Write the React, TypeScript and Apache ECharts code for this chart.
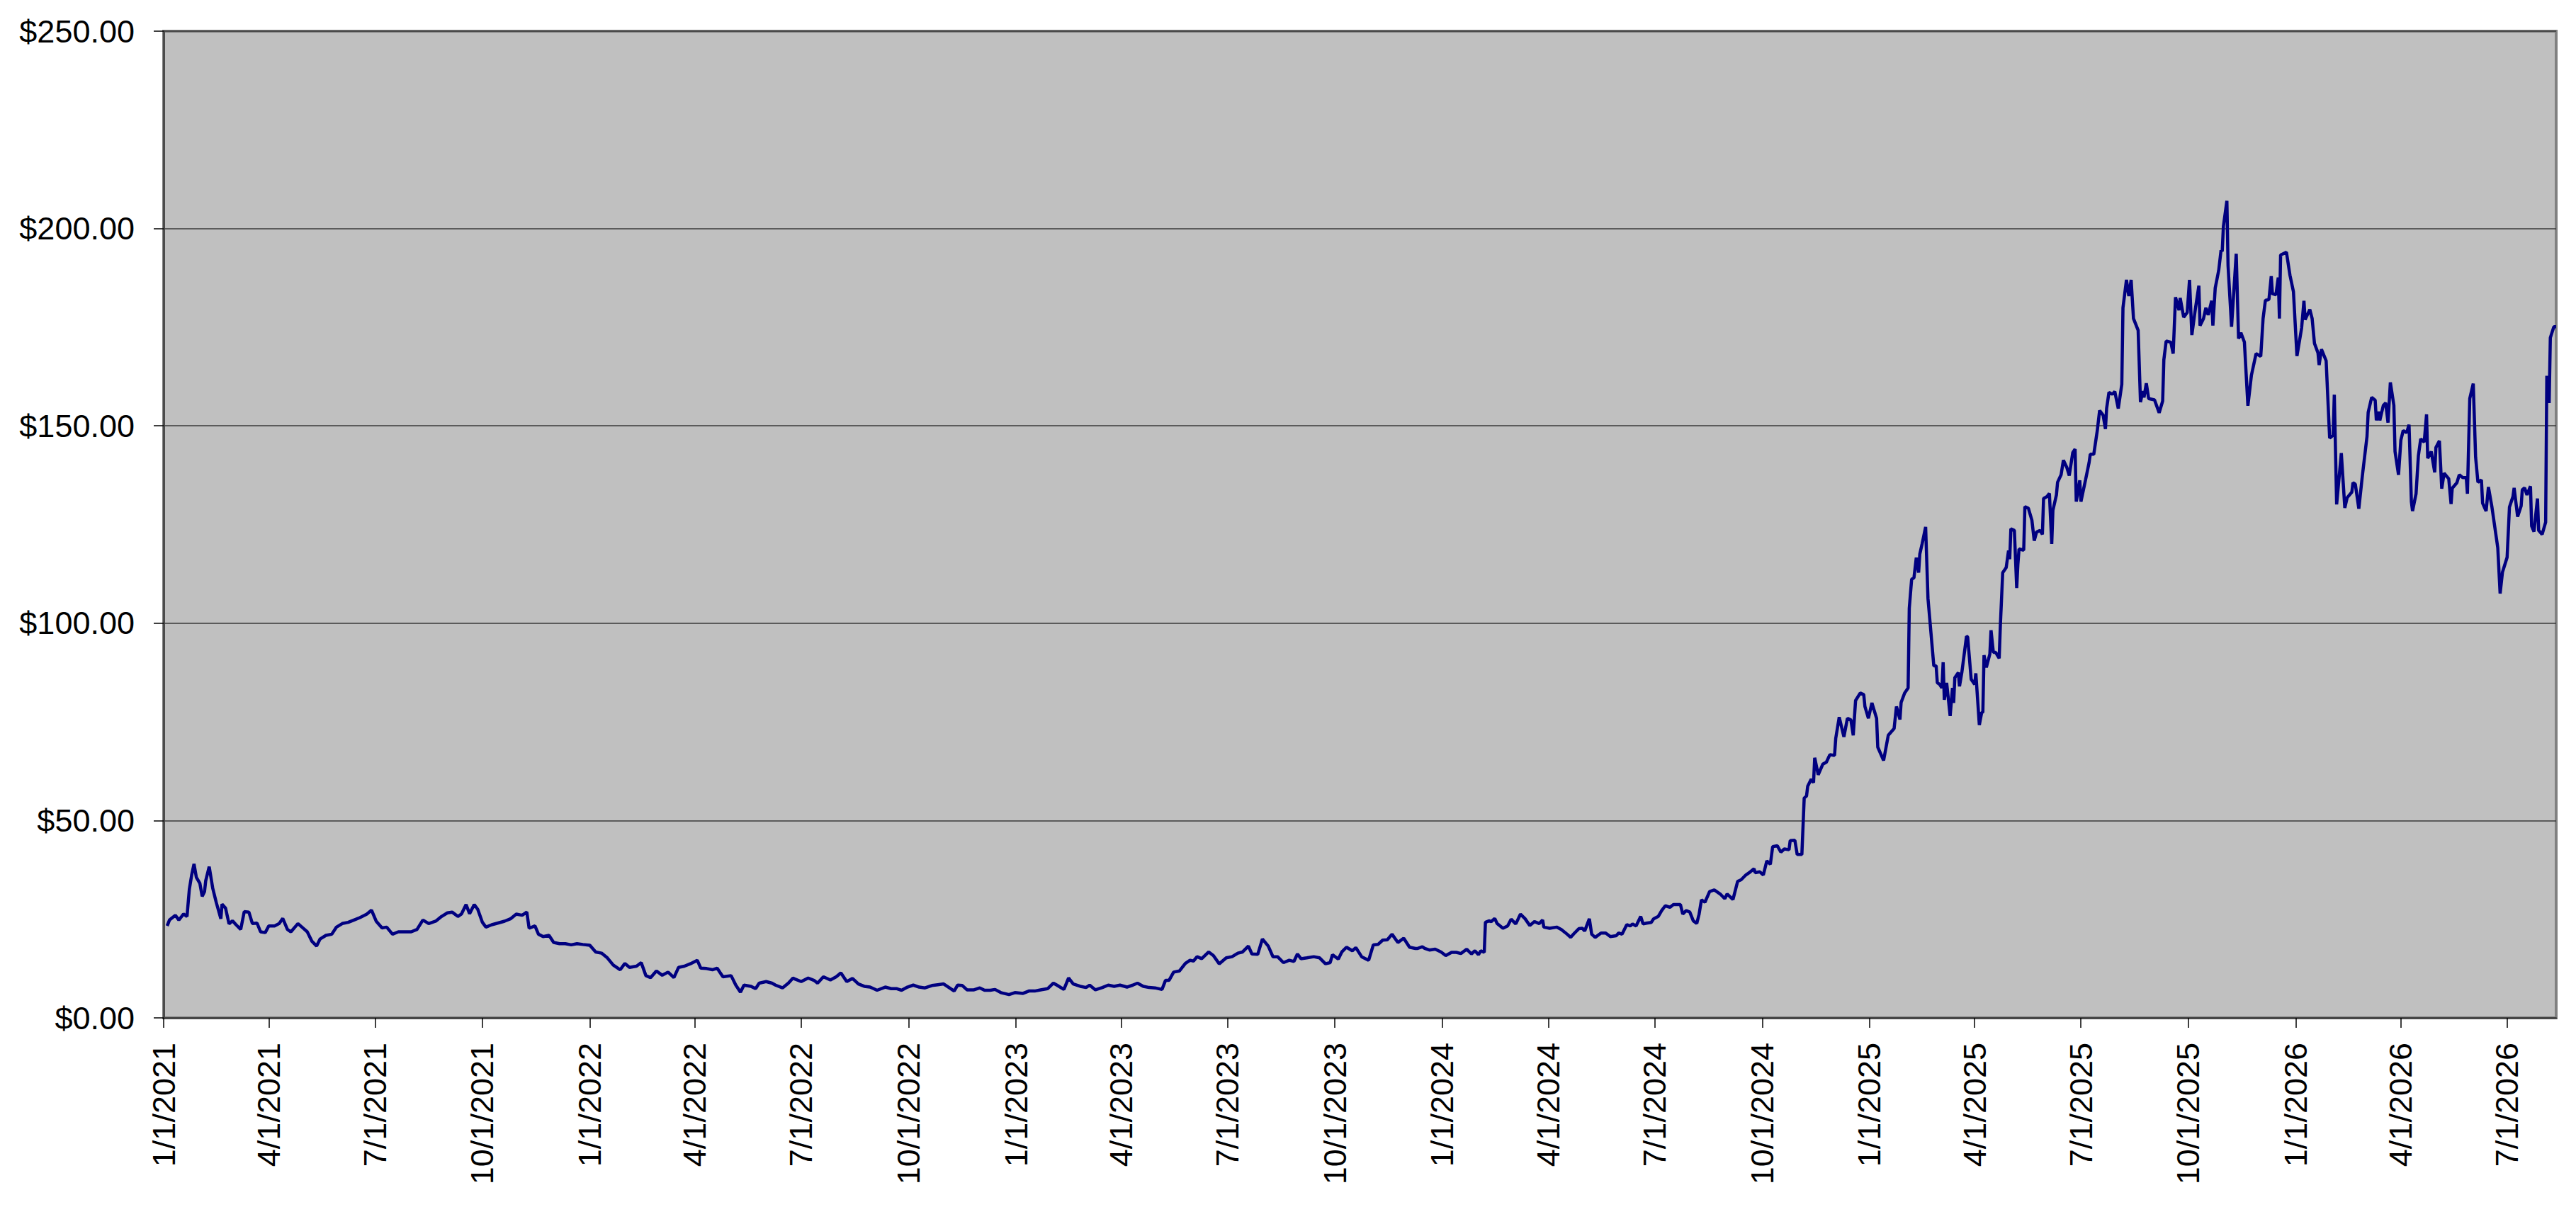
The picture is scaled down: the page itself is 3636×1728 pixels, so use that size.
import React, { useEffect, useRef } from 'react';
import * as echarts from 'echarts';

// Day offsets are counted from 1/1/2021; the x axis ends on day 2049 (8/11/2026).
const startDate = '1/1/2021';
const lastDay = 2049;

const tickLabels = [
  '1/1/2021', '4/1/2021', '7/1/2021', '10/1/2021',
  '1/1/2022', '4/1/2022', '7/1/2022', '10/1/2022',
  '1/1/2023', '4/1/2023', '7/1/2023', '10/1/2023',
  '1/1/2024', '4/1/2024', '7/1/2024', '10/1/2024',
  '1/1/2025', '4/1/2025', '7/1/2025', '10/1/2025',
  '1/1/2026', '4/1/2026', '7/1/2026',
];

const yMin = 0;
const yMax = 250;
const yStep = 50;

// [day offset, price]
const prices2021: [number, number][] = [
  [3, 23.3], [5, 24.8], [10, 26.0], [13, 24.8], [17, 26.3], [20, 25.7], [22, 32.6], [24, 36.2],
  [26, 39.0], [28, 35.6], [31, 34.1], [33, 30.8], [35, 32.0], [36, 34.7], [39, 38.3], [42, 32.9],
  [45, 29.3], [49, 25.1], [50, 28.8], [53, 27.8], [56, 23.8], [59, 24.6], [62, 23.6], [66, 22.4],
  [69, 26.9], [73, 26.8], [76, 23.9], [80, 24.0], [83, 21.8], [87, 21.6], [90, 23.3], [95, 23.3],
  [99, 23.9], [102, 25.2], [106, 22.4], [109, 21.8], [115, 23.9], [120, 22.6], [123, 21.8], [127, 19.4],
  [131, 18.2], [134, 20.0], [139, 20.9], [144, 21.2], [148, 23.0], [153, 23.9], [158, 24.2], [163, 24.8],
  [168, 25.4], [174, 26.3], [178, 27.3], [182, 24.5], [187, 22.8], [191, 23.0], [196, 21.2], [201, 21.8],
  [207, 21.8], [212, 21.8], [217, 22.4], [222, 24.8], [227, 23.9], [233, 24.5], [238, 25.7], [243, 26.6],
  [247, 26.8], [252, 25.7], [255, 26.3], [259, 28.7], [262, 26.4], [266, 28.7], [269, 27.5], [273, 24.2],
  [276, 23.0], [281, 23.6], [286, 24.0], [292, 24.5], [297, 25.1], [302, 26.3], [307, 26.0], [311, 26.8],
  [313, 22.7], [318, 23.3], [321, 21.2], [325, 20.6], [330, 20.9], [334, 19.1], [339, 18.8], [344, 18.8],
  [349, 18.5], [354, 18.8], [359, 18.6],
];

const prices2022: [number, number][] = [
  [365, 18.4], [370, 16.7], [375, 16.4], [380, 15.2], [385, 13.4], [391, 12.2], [395, 13.8], [399, 12.8],
  [405, 13.1], [409, 14.0], [413, 10.7], [417, 10.2], [422, 11.9], [427, 10.8], [432, 11.6], [437, 10.2],
  [441, 12.8], [446, 13.1], [451, 13.7], [457, 14.6], [460, 12.6], [465, 12.5], [470, 12.2], [474, 12.6],
  [479, 10.4], [486, 10.7], [490, 8.3], [494, 6.5], [497, 8.3], [503, 8.0], [507, 7.4], [510, 8.8],
  [516, 9.2], [521, 8.8], [524, 8.3], [530, 7.6], [535, 8.8], [539, 10.1], [541, 9.8], [546, 9.2],
  [552, 10.1], [557, 9.5], [560, 8.8], [565, 10.4], [571, 9.6], [576, 10.4], [580, 11.4], [585, 9.2],
  [590, 10.0], [595, 8.6], [600, 8.0], [605, 7.8], [611, 7.0], [618, 7.8], [623, 7.4], [628, 7.4],
  [632, 7.0], [637, 7.8], [642, 8.3], [647, 7.8], [652, 7.6], [658, 8.2], [663, 8.4], [668, 8.6],
  [673, 7.6], [677, 6.8], [680, 8.3], [684, 8.2], [688, 7.1], [694, 7.1], [699, 7.6], [703, 7.0],
  [708, 7.0], [712, 7.2], [717, 6.4], [724, 5.9], [729, 6.4],
];

const prices2023: [number, number][] = [
  [736, 6.2], [741, 6.8], [746, 6.8], [751, 7.1], [757, 7.4], [762, 8.8], [765, 8.3], [771, 7.2],
  [775, 10.1], [779, 8.6], [785, 8.0], [790, 7.7], [793, 8.3], [798, 7.1], [804, 7.7], [809, 8.3],
  [814, 8.0], [819, 8.3], [825, 7.8], [830, 8.3], [834, 8.8], [839, 8.0], [844, 7.7], [849, 7.6],
  [855, 7.2], [858, 9.5], [861, 9.5], [865, 11.6], [870, 11.9], [875, 13.8], [879, 14.6], [882, 14.4],
  [885, 15.5], [889, 15.0], [895, 16.7], [899, 15.8], [904, 13.7], [910, 15.2], [915, 15.5], [920, 16.4],
  [924, 16.7], [929, 18.2], [932, 16.2], [937, 16.1], [941, 20.0], [946, 18.2], [950, 15.5], [954, 15.5],
  [959, 14.0], [964, 14.6], [968, 14.3], [971, 16.2], [974, 15.0], [979, 15.2], [985, 15.5], [990, 15.2],
  [995, 13.7], [999, 14.0], [1001, 16.0], [1006, 14.9], [1009, 16.7], [1013, 17.9], [1018, 17.0], [1021, 17.8],
  [1026, 15.5], [1032, 14.6], [1036, 18.5], [1040, 18.6], [1044, 19.7], [1048, 19.8], [1052, 21.2], [1057, 19.1],
  [1062, 20.2], [1067, 17.9], [1072, 17.6], [1074, 17.6], [1078, 18.0], [1080, 17.6], [1084, 17.2], [1089, 17.4],
  [1094, 16.7],
];

const prices2024: [number, number][] = [
  [1098, 15.8], [1103, 16.6], [1107, 16.6], [1111, 16.3], [1116, 17.4], [1120, 16.2], [1123, 17.0], [1126, 16.0],
  [1128, 17.0], [1131, 16.6], [1132, 24.2], [1135, 24.6], [1137, 24.4], [1140, 25.2], [1142, 23.9], [1147, 22.7],
  [1151, 23.3], [1154, 25.0], [1158, 23.8], [1162, 26.3], [1166, 25.1], [1170, 23.4], [1174, 24.4], [1178, 23.9],
  [1181, 24.8], [1182, 23.0], [1187, 22.7], [1193, 23.0], [1197, 22.4], [1202, 21.2], [1205, 20.4], [1208, 21.4],
  [1212, 22.6], [1215, 22.7], [1217, 22.0], [1221, 25.1], [1223, 21.2], [1226, 20.4], [1231, 21.5], [1235, 21.5],
  [1239, 20.6], [1244, 20.8], [1246, 21.5], [1249, 21.2], [1253, 23.6], [1256, 23.3], [1258, 23.8], [1261, 23.3],
  [1265, 25.7], [1267, 23.8], [1270, 24.0], [1274, 24.2], [1276, 25.1], [1280, 25.7], [1283, 27.2], [1286, 28.4],
  [1290, 28.0], [1293, 28.7], [1299, 28.7], [1301, 26.3], [1304, 27.2], [1307, 26.8], [1310, 24.6], [1313, 23.9],
  [1315, 26.3], [1317, 29.9], [1320, 29.3], [1324, 32.0], [1328, 32.4], [1333, 31.4], [1337, 30.2], [1339, 31.4],
  [1344, 30.0], [1348, 34.6], [1351, 35.0], [1355, 36.2], [1358, 36.8], [1362, 37.8], [1363, 36.8], [1367, 37.0],
  [1370, 36.2], [1373, 39.8], [1376, 38.9], [1378, 43.4], [1382, 43.6], [1385, 42.0], [1388, 42.8], [1392, 42.6],
  [1393, 44.9], [1397, 45.0], [1399, 41.4], [1403, 41.4], [1405, 55.7], [1407, 56.2], [1408, 58.7], [1411, 60.5],
  [1413, 59.6], [1414, 65.9], [1417, 61.6], [1421, 64.3], [1424, 64.8], [1427, 66.7], [1431, 66.5], [1432, 70.8],
  [1435, 76.2], [1439, 71.2], [1442, 75.9], [1445, 75.5], [1447, 71.6], [1449, 80.4], [1453, 82.3], [1456, 81.9],
  [1457, 78.9], [1460, 75.9],
];

const prices2025: [number, number][] = [
  [1463, 79.8], [1467, 75.9], [1468, 68.6], [1473, 65.2], [1477, 71.6], [1482, 73.3], [1484, 78.9], [1487, 75.6],
  [1488, 79.9], [1491, 82.3], [1494, 83.6], [1495, 103.8], [1497, 111.1], [1499, 111.5], [1501, 116.6], [1503, 112.8],
  [1504, 117.5], [1506, 120.1], [1509, 124.4], [1511, 106.3], [1513, 99.5], [1516, 89.2], [1518, 89.2], [1519, 84.9],
  [1521, 84.5], [1523, 83.6], [1524, 90.1], [1525, 80.6], [1527, 84.9], [1530, 76.5], [1532, 83.6], [1533, 79.8],
  [1534, 86.2], [1537, 87.5], [1538, 84.0], [1540, 87.5], [1544, 96.7], [1545, 96.5], [1548, 85.8], [1551, 84.5],
  [1552, 87.3], [1555, 74.2], [1557, 77.4], [1558, 77.4], [1559, 91.9], [1561, 88.8], [1564, 92.2], [1565, 98.2],
  [1567, 92.6], [1569, 92.6], [1572, 91.1], [1573, 99.5], [1575, 112.8], [1578, 114.1], [1580, 118.4], [1581, 116.2],
  [1582, 123.9], [1585, 123.5], [1587, 108.9], [1588, 114.9], [1589, 118.8], [1593, 118.5], [1594, 129.5], [1597, 129.1],
  [1600, 126.1], [1602, 120.9], [1604, 123.1], [1607, 123.5], [1609, 122.5], [1610, 131.6], [1613, 132.1], [1615, 132.9],
  [1617, 120.1], [1618, 128.6], [1621, 132.5], [1622, 135.7], [1625, 137.6], [1627, 141.3], [1630, 139.4], [1632, 137.4],
  [1635, 143.2], [1637, 144.1], [1638, 130.8], [1641, 136.2], [1642, 130.8], [1646, 136.4], [1649, 140.7], [1650, 142.8],
  [1653, 142.8], [1656, 148.8], [1658, 153.9], [1661, 152.7], [1663, 149.2], [1664, 154.4], [1666, 158.5], [1669, 158.0],
  [1671, 158.7], [1674, 154.4], [1677, 160.5], [1678, 179.9], [1681, 187.0], [1683, 182.9], [1685, 187.0], [1687, 177.2],
  [1691, 174.2], [1693, 156.0], [1695, 158.8], [1696, 157.2], [1698, 160.8], [1700, 156.9], [1705, 156.6], [1709, 153.3],
  [1712, 156.3], [1713, 166.7], [1715, 171.5], [1719, 171.2], [1721, 168.3], [1723, 182.6], [1726, 179.3], [1727, 182.4],
  [1730, 177.5], [1733, 178.7], [1735, 187.0], [1737, 173.0], [1740, 179.6], [1743, 185.5], [1744, 175.4], [1747, 177.2],
  [1749, 179.9], [1751, 178.1], [1754, 181.7], [1755, 175.4], [1757, 184.9], [1760, 189.4], [1762, 194.5], [1763, 194.2],
  [1764, 200.5], [1767, 207.0], [1768, 190.6], [1771, 175.1], [1775, 193.6], [1777, 172.1], [1779, 173.6], [1782, 171.2],
  [1783, 165.8], [1785, 155.1], [1788, 162.8], [1792, 168.3], [1796, 167.6], [1798, 177.2], [1800, 181.8], [1803, 182.0],
  [1805, 187.9], [1806, 183.5], [1809, 183.2], [1811, 187.6], [1812, 177.2], [1813, 193.3], [1818, 194.0], [1821, 188.2],
  [1824, 184.0],
];

const prices2026: [number, number][] = [
  [1827, 167.7], [1831, 174.8], [1833, 181.7], [1834, 176.9], [1838, 179.5], [1840, 177.2], [1842, 170.9], [1845, 168.5],
  [1846, 165.4], [1848, 169.4], [1852, 166.5], [1855, 146.9], [1858, 147.6], [1859, 157.9], [1861, 130.1], [1865, 143.1],
  [1868, 129.2], [1870, 131.8], [1874, 133.2], [1875, 135.6], [1877, 135.2], [1880, 129.0], [1883, 137.3], [1887, 147.3],
  [1888, 153.4], [1891, 157.2], [1894, 156.5], [1895, 151.4], [1897, 153.6], [1898, 151.4], [1901, 155.2], [1903, 155.8],
  [1905, 150.8], [1907, 161.0], [1910, 155.2], [1911, 143.5], [1914, 137.6], [1916, 146.4], [1918, 148.8], [1921, 148.3],
  [1923, 150.3], [1925, 130.8], [1926, 128.4], [1929, 132.8], [1931, 142.4], [1933, 146.7], [1936, 145.9], [1938, 152.9],
  [1939, 141.8], [1942, 143.5], [1945, 138.2], [1946, 144.5], [1949, 146.2], [1951, 134.1], [1953, 138.0], [1957, 136.6],
  [1959, 130.2], [1960, 134.2], [1964, 135.6], [1966, 137.6], [1969, 136.9], [1972, 136.9], [1973, 132.8], [1975, 156.9],
  [1978, 160.7], [1980, 142.1], [1982, 135.7], [1985, 136.3], [1986, 130.4], [1989, 128.4], [1991, 134.5], [1994, 129.4],
  [1999, 119.1], [2001, 107.5], [2003, 112.9], [2007, 116.7], [2009, 129.4], [2012, 132.1], [2013, 134.3], [2016, 127.0],
  [2019, 129.7], [2020, 133.8], [2022, 134.3], [2024, 132.5], [2027, 134.7], [2028, 124.6], [2030, 123.2], [2033, 131.6],
  [2034, 123.5], [2037, 122.5], [2040, 125.6], [2041, 162.7], [2043, 155.8], [2044, 172.3], [2047, 175.1], [2049, 175.1],
];

function dayOffset(label: string): number {
  const [m, d, y] = label.split('/').map(Number);
  const [m0, d0, y0] = startDate.split('/').map(Number);
  return Math.round((Date.UTC(y, m - 1, d) - Date.UTC(y0, m0 - 1, d0)) / 86400000);
}

const FONT = '"Liberation Sans", Arial, Helvetica, sans-serif';

export default function App() {
  const ref = useRef<HTMLDivElement>(null);

  useEffect(() => {
    if (!ref.current) return;
    const chart = echarts.init(ref.current, undefined, { renderer: 'svg' });

    const tickDays = tickLabels.map(dayOffset);
    const labelByDay = new Map<number, string>();
    tickDays.forEach((d, i) => labelByDay.set(d, tickLabels[i]));

    const series = [
      ...prices2021, ...prices2022, ...prices2023,
      ...prices2024, ...prices2025, ...prices2026,
    ];

    chart.setOption({
      animation: false,
      backgroundColor: '#ffffff',
      textStyle: { fontFamily: FONT },
      grid: {
        left: 231,
        right: 28,
        top: 44,
        bottom: 291,
        show: true,
        backgroundColor: '#C0C0C0',
        borderColor: '#808080',
        borderWidth: 4,
        containLabel: false,
        outerBoundsMode: 'none',
      },
      xAxis: {
        type: 'value',
        min: 0,
        max: lastDay,
        axisLine: { show: true, lineStyle: { color: '#404040', width: 2.5 } },
        axisTick: {
          show: true,
          customValues: tickDays,
          length: 14,
          lineStyle: { color: '#000000', width: 1.5 },
        },
        axisLabel: {
          show: true,
          customValues: tickDays,
          rotate: 90,
          margin: 35,
          fontSize: 45,
          fontFamily: FONT,
          color: '#000000',
          formatter: (v: number) => labelByDay.get(Math.round(v)) ?? '',
        },
        splitLine: { show: false },
      },
      yAxis: {
        type: 'value',
        min: yMin,
        max: yMax,
        interval: yStep,
        axisLine: { show: true, lineStyle: { color: '#404040', width: 2.5 } },
        axisTick: { show: true, length: 14, lineStyle: { color: '#000000', width: 1.5 } },
        axisLabel: {
          margin: 41,
          fontSize: 45,
          fontFamily: FONT,
          color: '#000000',
          formatter: (v: number) => '$' + v.toFixed(2),
        },
        splitLine: { show: true, lineStyle: { color: '#3a3a3a', width: 1.5 } },
      },
      series: [
        {
          type: 'line',
          data: series,
          showSymbol: false,
          symbol: 'none',
          lineStyle: { color: '#000080', width: 4.5 },
          itemStyle: { color: '#000080' },
          emphasis: { disabled: true },
          z: 3,
        },
      ],
    });

    return () => chart.dispose();
  }, []);

  return (
    <div
      ref={ref}
      style={{ position: 'fixed', left: 0, top: 0, width: 3636, height: 1728 }}
    />
  );
}
